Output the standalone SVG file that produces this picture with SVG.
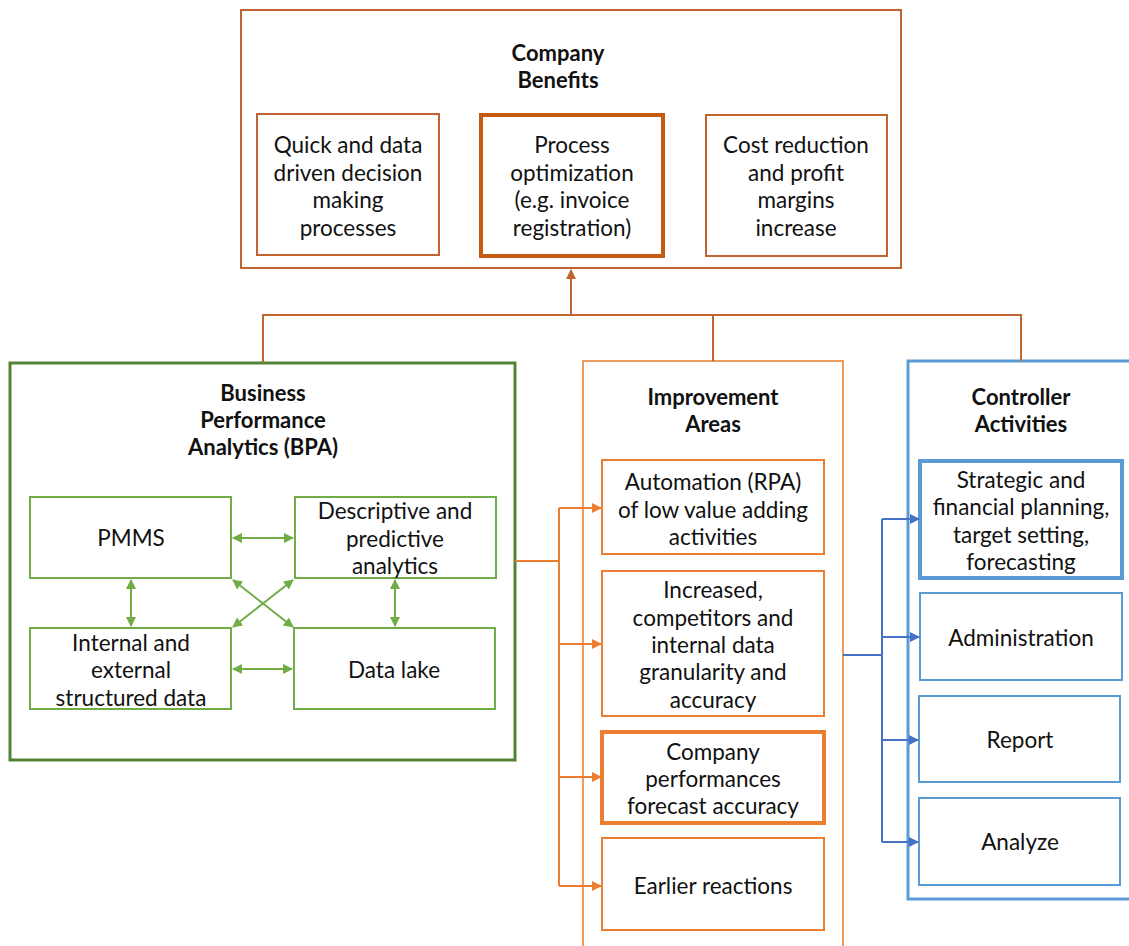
<svg xmlns="http://www.w3.org/2000/svg" width="1129" height="946" viewBox="0 0 1129 946">
  <style>
    text { font-family: Lato, "Open Sans", "Liberation Sans", sans-serif; font-size: 22.5px; fill: #111; text-anchor: middle; }
    .title { font-weight: bold; font-size: 22px; }
    .cb { fill: #fff; stroke: #C06530; stroke-width: 2; }
    .cb-strong { fill: #fff; stroke: #C55A11; stroke-width: 4; }
    .bpa { fill: #fff; stroke: #548235; stroke-width: 3; }
    .bpa-in { fill: #fff; stroke: #70AD47; stroke-width: 2; }
    .ia { fill: #fff; stroke: #EE9A5C; stroke-width: 2; }
    .ia-in { fill: #fff; stroke: #ED7D31; stroke-width: 2; }
    .ia-strong { fill: #fff; stroke: #ED7D31; stroke-width: 4; }
    .ca { fill: #fff; stroke: #5B9BD5; stroke-width: 3; }
    .ca-in { fill: #fff; stroke: #5B9BD5; stroke-width: 2; }
    .ca-strong { fill: #fff; stroke: #5B9BD5; stroke-width: 4; }
    .l-top { fill: none; stroke: #C06530; stroke-width: 2; }
    .l-green { fill: none; stroke: #70AD47; stroke-width: 2; }
    .l-orange { fill: none; stroke: #ED7D31; stroke-width: 2; }
    .l-blue { fill: none; stroke: #4472C4; stroke-width: 2; }
  </style>
  <defs>
    <marker id="ah-top" viewBox="0 0 10 10" refX="9" refY="5" markerWidth="5" markerHeight="5" orient="auto-start-reverse" markerUnits="strokeWidth">
      <path d="M0,0 L10,5 L0,10 z" fill="#C06530"/>
    </marker>
    <marker id="ah-green" viewBox="0 0 10 10" refX="9" refY="5" markerWidth="5" markerHeight="5" orient="auto-start-reverse" markerUnits="strokeWidth">
      <path d="M0,0 L10,5 L0,10 z" fill="#70AD47"/>
    </marker>
    <marker id="ah-orange" viewBox="0 0 10 10" refX="9" refY="5" markerWidth="5" markerHeight="5" orient="auto" markerUnits="strokeWidth">
      <path d="M0,0 L10,5 L0,10 z" fill="#ED7D31"/>
    </marker>
    <marker id="ah-blue" viewBox="0 0 10 10" refX="9" refY="5" markerWidth="5" markerHeight="5" orient="auto" markerUnits="strokeWidth">
      <path d="M0,0 L10,5 L0,10 z" fill="#4472C4"/>
    </marker>
  </defs>

  <rect width="1129" height="946" fill="#fff"/>

  <!-- Company benefits -->
  <g id="company-benefits">
    <rect class="cb" x="241" y="10" width="660" height="258"/>
    <text class="title" x="558" y="61">Company</text>
    <text class="title" x="558" y="88">Benefits</text>
  </g>
  <g id="cb-quick">
    <rect class="cb" x="257" y="114" width="182" height="141"/>
    <text x="348" y="153">Quick and data</text>
    <text x="348" y="181">driven decision</text>
    <text x="348" y="208">making</text>
    <text x="348" y="236">processes</text>
  </g>
  <g id="cb-process">
    <rect class="cb-strong" x="481" y="115" width="182" height="141"/>
    <text x="572" y="153">Process</text>
    <text x="572" y="181">optimization</text>
    <text x="572" y="208">(e.g. invoice</text>
    <text x="572" y="236">registration)</text>
  </g>
  <g id="cb-cost">
    <rect class="cb" x="706" y="115" width="181" height="141"/>
    <text x="796" y="153">Cost reduction</text>
    <text x="796" y="181">and profit</text>
    <text x="796" y="208">margins</text>
    <text x="796" y="236">increase</text>
  </g>

  <!-- Business Performance Analytics -->
  <g id="bpa">
    <rect class="bpa" x="10" y="363" width="505" height="397"/>
    <text class="title" x="263" y="401">Business</text>
    <text class="title" x="263" y="428">Performance</text>
    <text class="title" x="263" y="455">Analytics (BPA)</text>
  </g>
  <g id="bpa-pmms">
    <rect class="bpa-in" x="30" y="497" width="201" height="81"/>
    <text x="131" y="546">PMMS</text>
  </g>
  <g id="bpa-analytics">
    <rect class="bpa-in" x="295" y="497" width="201" height="81"/>
    <text x="395" y="519">Descriptive and</text>
    <text x="395" y="547">predictive</text>
    <text x="395" y="574">analytics</text>
  </g>
  <g id="bpa-data">
    <rect class="bpa-in" x="30" y="628" width="201" height="81"/>
    <text x="131" y="651">Internal and</text>
    <text x="131" y="678">external</text>
    <text x="131" y="706">structured data</text>
  </g>
  <g id="bpa-lake">
    <rect class="bpa-in" x="294" y="628" width="201" height="81"/>
    <text x="394" y="678">Data lake</text>
  </g>

  <!-- Improvement areas -->
  <g id="improvement-areas">
    <rect class="ia" x="583" y="361" width="260" height="600"/>
    <text class="title" x="713" y="405">Improvement</text>
    <text class="title" x="713" y="432">Areas</text>
  </g>
  <g id="ia-automation">
    <rect class="ia-in" x="602" y="460" width="222" height="94"/>
    <text x="713" y="490">Automation (RPA)</text>
    <text x="713" y="518">of low value adding</text>
    <text x="713" y="545">activities</text>
  </g>
  <g id="ia-data">
    <rect class="ia-in" x="602" y="571" width="222" height="145"/>
    <text x="713" y="598">Increased,</text>
    <text x="713" y="626">competitors and</text>
    <text x="713" y="653">internal data</text>
    <text x="713" y="680">granularity and</text>
    <text x="713" y="708">accuracy</text>
  </g>
  <g id="ia-forecast">
    <rect class="ia-strong" x="602" y="732" width="222" height="91"/>
    <text x="713" y="760">Company</text>
    <text x="713" y="787">performances</text>
    <text x="713" y="814">forecast accuracy</text>
  </g>
  <g id="ia-reactions">
    <rect class="ia-in" x="602" y="838" width="222" height="92"/>
    <text x="713" y="894">Earlier reactions</text>
  </g>

  <!-- Controller activities -->
  <g id="controller-activities">
    <rect class="ca" x="908" y="361" width="230" height="538"/>
    <text class="title" x="1021" y="405">Controller</text>
    <text class="title" x="1021" y="432">Activities</text>
  </g>
  <g id="ca-planning">
    <rect class="ca-strong" x="920" y="461" width="202" height="117"/>
    <text x="1021" y="488">Strategic and</text>
    <text x="1021" y="515">financial planning,</text>
    <text x="1021" y="543">target setting,</text>
    <text x="1021" y="570">forecasting</text>
  </g>
  <g id="ca-admin">
    <rect class="ca-in" x="920" y="593" width="202" height="87"/>
    <text x="1021" y="646">Administration</text>
  </g>
  <g id="ca-report">
    <rect class="ca-in" x="919" y="696" width="201" height="86"/>
    <text x="1020" y="748">Report</text>
  </g>
  <g id="ca-analyze">
    <rect class="ca-in" x="919" y="798" width="201" height="87"/>
    <text x="1020" y="850">Analyze</text>
  </g>

  <!-- Connectors -->
  <g id="connectors">
    <!-- bus into company benefits -->
    <path class="l-top" d="M263,363 V315 H1021 V361 M713,315 V361"/>
    <path class="l-top" d="M571,315 V270" marker-end="url(#ah-top)" stroke-width="2.5"/>

    <!-- BPA internal links -->
    <path class="l-green" d="M233,538 H293" marker-start="url(#ah-green)" marker-end="url(#ah-green)"/>
    <path class="l-green" d="M233,669 H292" marker-start="url(#ah-green)" marker-end="url(#ah-green)"/>
    <path class="l-green" d="M131,580 V626" marker-start="url(#ah-green)" marker-end="url(#ah-green)"/>
    <path class="l-green" d="M395,580 V626" marker-start="url(#ah-green)" marker-end="url(#ah-green)"/>
    <path class="l-green" d="M233,580 L293,627" marker-start="url(#ah-green)" marker-end="url(#ah-green)"/>
    <path class="l-green" d="M293,580 L233,627" marker-start="url(#ah-green)" marker-end="url(#ah-green)"/>

    <!-- BPA to improvement areas -->
    <path class="l-orange" d="M515,561 H559 M559,508 V886"/>
    <path class="l-orange" d="M559,508 H601" marker-end="url(#ah-orange)"/>
    <path class="l-orange" d="M559,644 H601" marker-end="url(#ah-orange)"/>
    <path class="l-orange" d="M559,777 H601" marker-end="url(#ah-orange)"/>
    <path class="l-orange" d="M559,886 H601" marker-end="url(#ah-orange)"/>

    <!-- improvement areas to controller activities -->
    <path class="l-blue" d="M843,655 H882 M882,519 V842"/>
    <path class="l-blue" d="M882,519 H919" marker-end="url(#ah-blue)"/>
    <path class="l-blue" d="M882,637 H919" marker-end="url(#ah-blue)"/>
    <path class="l-blue" d="M882,740 H918" marker-end="url(#ah-blue)"/>
    <path class="l-blue" d="M882,842 H918" marker-end="url(#ah-blue)"/>
  </g>
</svg>
